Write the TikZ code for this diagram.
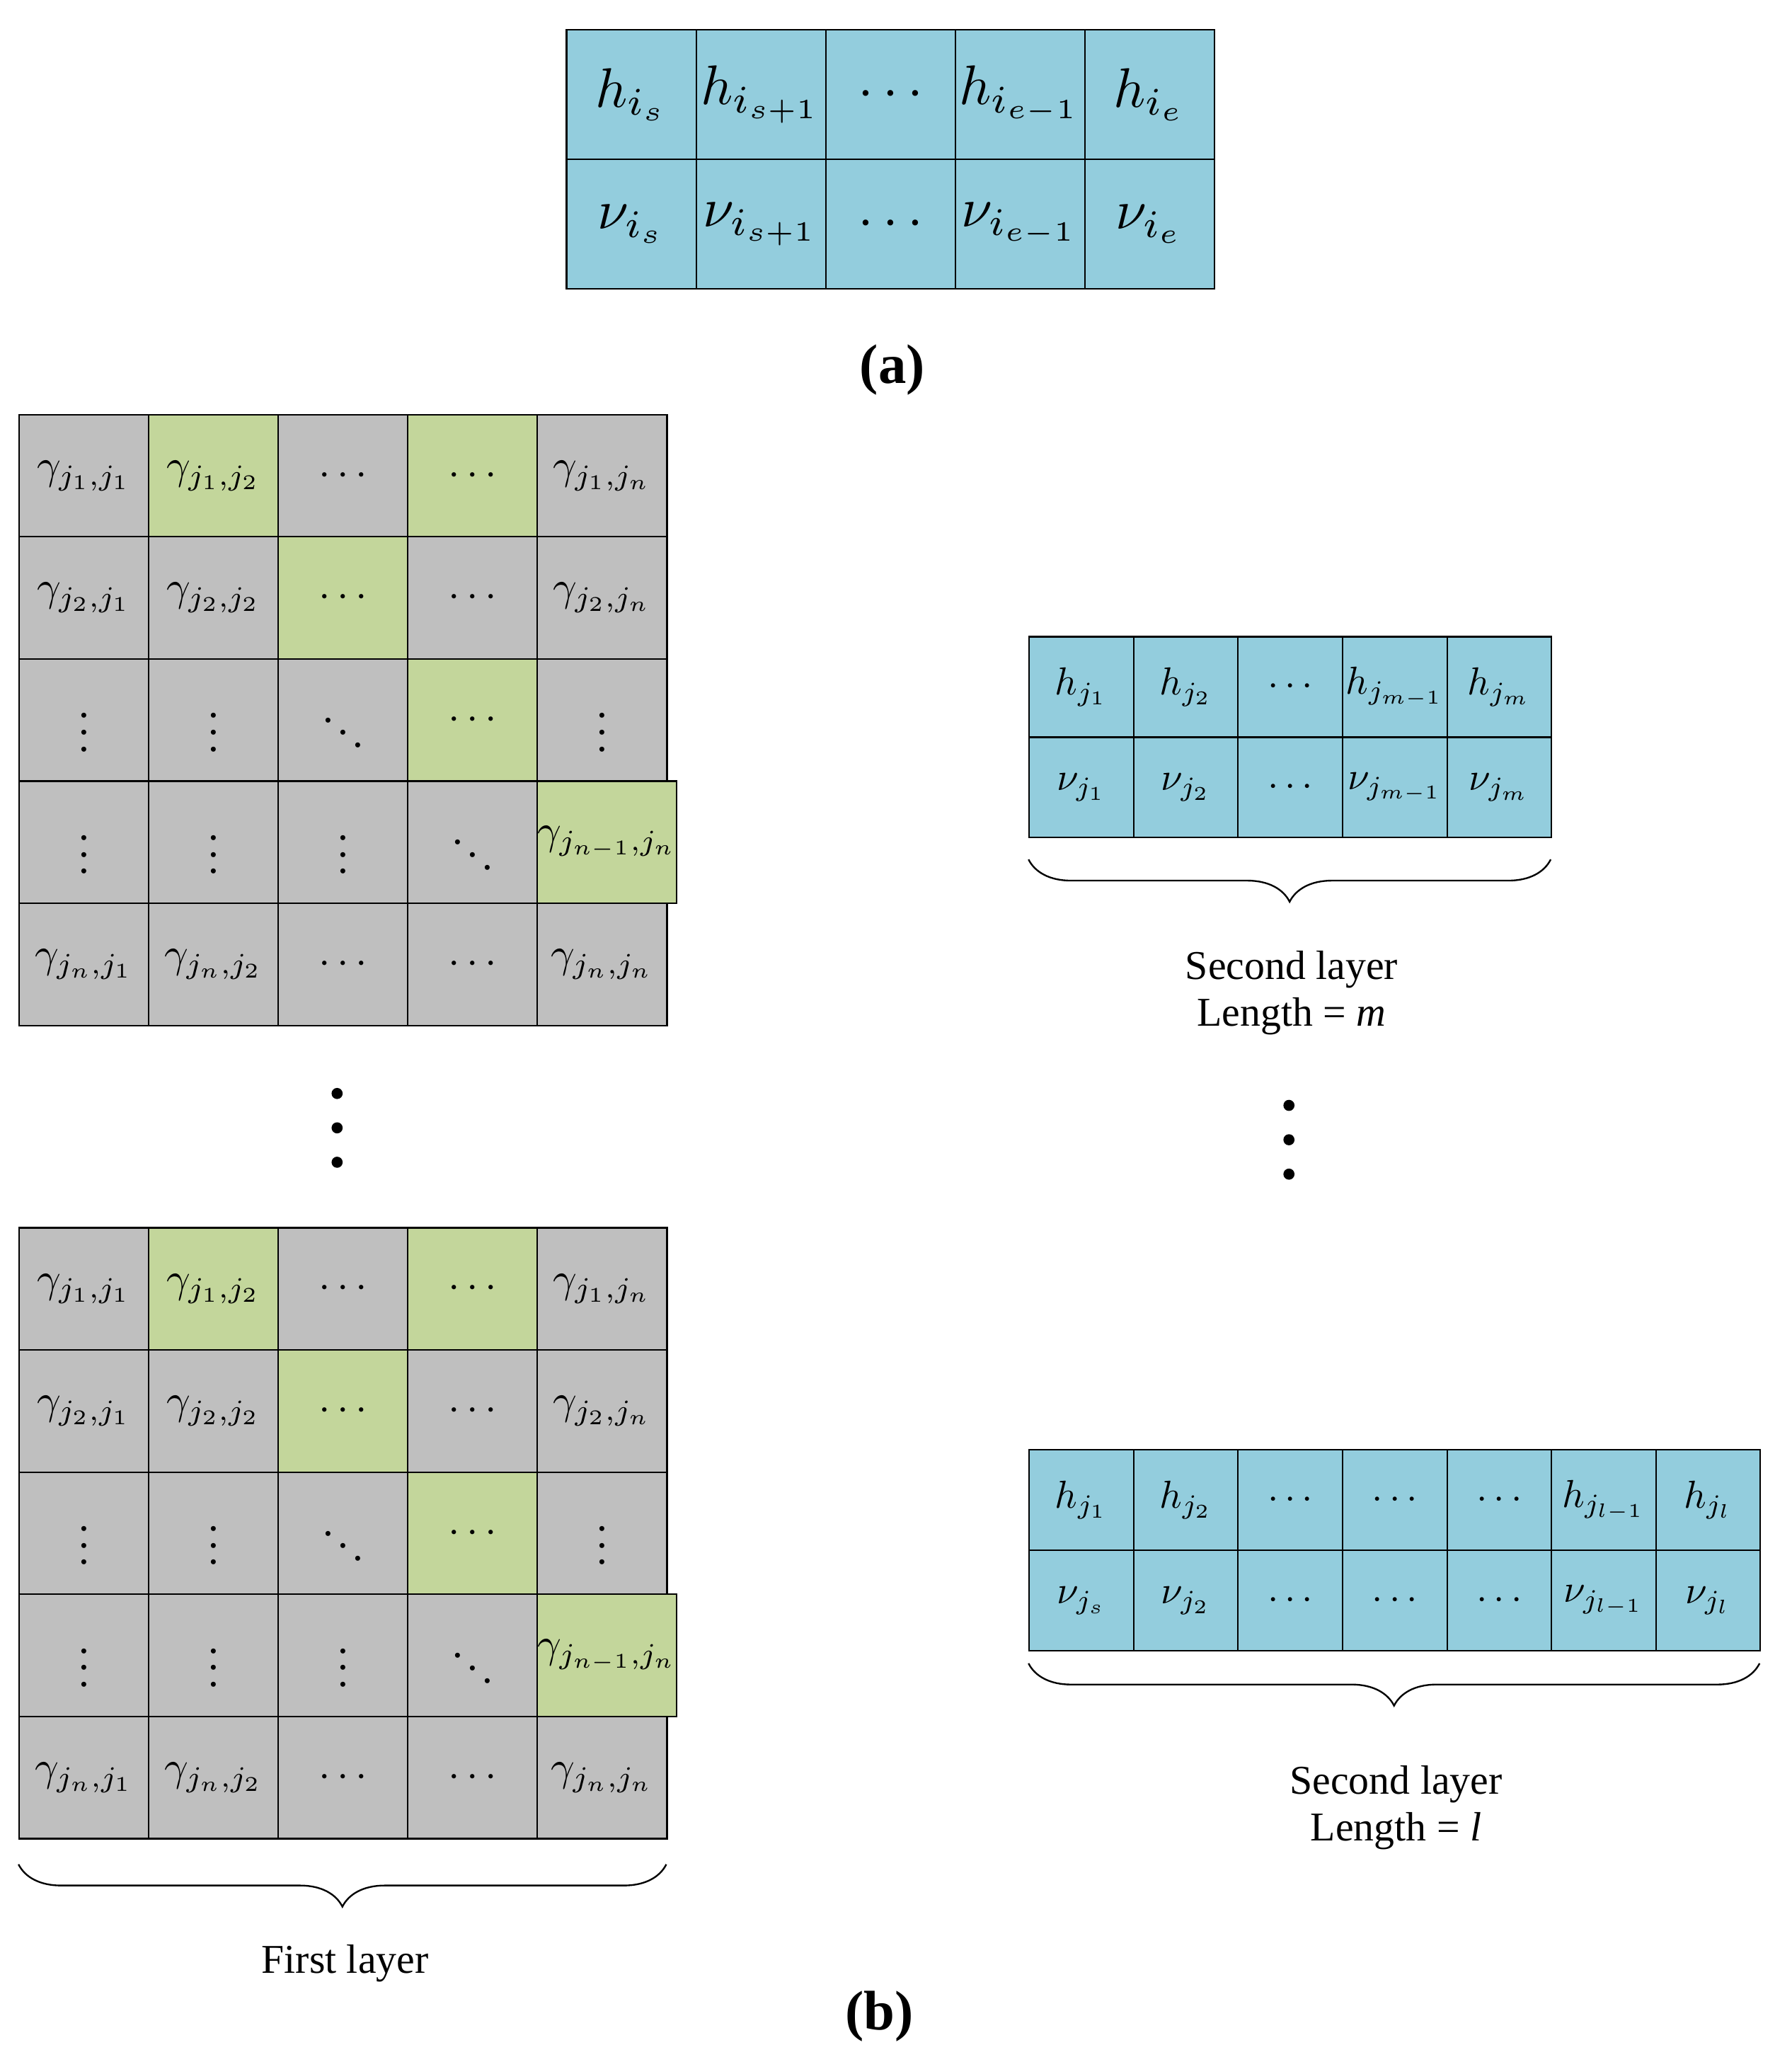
\documentclass[tikz,border=0pt]{standalone}
\usepackage{graphicx}
\usepackage{fontspec}
\setmainfont{Liberation Serif}
\usetikzlibrary{decorations.pathreplacing}
\definecolor{cb}{RGB}{147,205,221}
\definecolor{cg}{RGB}{191,191,191}
\definecolor{cgr}{RGB}{195,214,155}
\tikzset{cell/.style={draw=black,line width=1.6pt,anchor=north west,inner sep=0pt},
 lab/.style={font=\fontsize{44}{50}\selectfont,align=center},
 brc/.style={decorate,decoration={brace,mirror,amplitude=1.6cm},line width=1.8pt},
 dt/.style={fill=black,circle,inner sep=0pt,minimum size=0.42cm}}
\newcommand\gmat[2]{%
 \foreach \r/\c/\f/\t in {
 1/1/cg/{$\gamma_{j_1,j_1}$},1/2/cgr/{$\gamma_{j_1,j_2}$},1/3/cg/{$\cdots$},1/4/cgr/{$\cdots$},1/5/cg/{$\gamma_{j_1,j_n}$},
 2/1/cg/{$\gamma_{j_2,j_1}$},2/2/cg/{$\gamma_{j_2,j_2}$},2/3/cgr/{$\cdots$},2/4/cg/{$\cdots$},2/5/cg/{$\gamma_{j_2,j_n}$},
 3/1/cg/{$\vdots$},3/2/cg/{$\vdots$},3/3/cg/{$\ddots$},3/4/cgr/{$\cdots$},3/5/cg/{$\vdots$},
 4/1/cg/{$\vdots$},4/2/cg/{$\vdots$},4/3/cg/{$\vdots$},4/4/cg/{$\ddots$},4/5/cgr/{$\gamma_{j_{n-1},j_n}$},
 5/1/cg/{$\gamma_{j_n,j_1}$},5/2/cg/{$\gamma_{j_n,j_2}$},5/3/cg/{$\cdots$},5/4/cg/{$\cdots$},5/5/cg/{$\gamma_{j_n,j_n}$}}
 {\node[cell,fill=\f,minimum width=4.9cm,minimum height=4.62cm] (#1-\r-\c) at ({14+98*(\c-1)},{#2+92.4*(\r-1)}) {\scalebox{4.5}{\t}};}}
\begin{document}
\begin{tikzpicture}[x=0.05cm,y=-0.05cm]
\useasboundingbox (0,0) rectangle (1355,1559.5);
% (a)
\foreach \r/\c/\t in {1/1/{$h_{i_s}$},1/2/{$h_{i_{s+1}}$},1/3/{$\cdots$},1/4/{$h_{i_{e-1}}$},1/5/{$h_{i_e}$},
 2/1/{$\nu_{i_s}$},2/2/{$\nu_{i_{s+1}}$},2/3/{$\cdots$},2/4/{$\nu_{i_{e-1}}$},2/5/{$\nu_{i_e}$}}
 {\node[cell,fill=cb,minimum width=4.9cm,minimum height=4.9cm] (a-\r-\c) at ({428+98*(\c-1)},{22+98*(\r-1)}) {\scalebox{6}{\t}};}
\node[font=\fontsize{60}{66}\selectfont\bfseries] (la) at (675,280) {(a)};
% matrices
\gmat{m}{313}
\gmat{n}{928}
\node[dt] (d1) at (255,827) {};\node[dt] (d2) at (255,853) {};\node[dt] (d3) at (255,879) {};
\coordinate (b1l) at (14,1410);\coordinate (b1r) at (504,1410);
\draw[brc] (b1l) -- (b1r);
\node[lab] (fl) at (261,1485) {First layer};
\node[font=\fontsize{60}{66}\selectfont\bfseries] (lb) at (665,1525) {(b)};
% right table 1
\foreach \r/\c/\t in {1/1/{$h_{j_1}$},1/2/{$h_{j_2}$},1/3/{$\cdots$},1/4/{$h_{j_{m-1}}$},1/5/{$h_{j_m}$},
 2/1/{$\nu_{j_1}$},2/2/{$\nu_{j_2}$},2/3/{$\cdots$},2/4/{$\nu_{j_{m-1}}$},2/5/{$\nu_{j_m}$}}
 {\node[cell,fill=cb,minimum width=3.95cm,minimum height=3.8cm] (p-\r-\c) at ({778+79*(\c-1)},{481+76*(\r-1)}) {\scalebox{4.2}{\t}};}
\coordinate (b2l) at (778,650);\coordinate (b2r) at (1173,650);
\draw[brc] (b2l) -- (b2r);
\node[lab] (sl1) at (977,751) {Second layer\\Length = \textit{m}};
\node[dt] (e1) at (975,836) {};\node[dt] (e2) at (975,862) {};\node[dt] (e3) at (975,888) {};
% right table 2
\foreach \r/\c/\t in {1/1/{$h_{j_1}$},1/2/{$h_{j_2}$},1/3/{$\cdots$},1/4/{$\cdots$},1/5/{$\cdots$},1/6/{$h_{j_{l-1}}$},1/7/{$h_{j_l}$},
 2/1/{$\nu_{j_s}$},2/2/{$\nu_{j_2}$},2/3/{$\cdots$},2/4/{$\cdots$},2/5/{$\cdots$},2/6/{$\nu_{j_{l-1}}$},2/7/{$\nu_{j_l}$}}
 {\node[cell,fill=cb,minimum width=3.95cm,minimum height=3.8cm] (q-\r-\c) at ({778+79*(\c-1)},{1096+76*(\r-1)}) {\scalebox{4.2}{\t}};}
\coordinate (b3l) at (778,1258);\coordinate (b3r) at (1331,1258);
\draw[brc] (b3l) -- (b3r);
\node[lab] (sl2) at (1056,1367) {Second layer\\Length = \textit{l}};
\end{tikzpicture}
\end{document}
